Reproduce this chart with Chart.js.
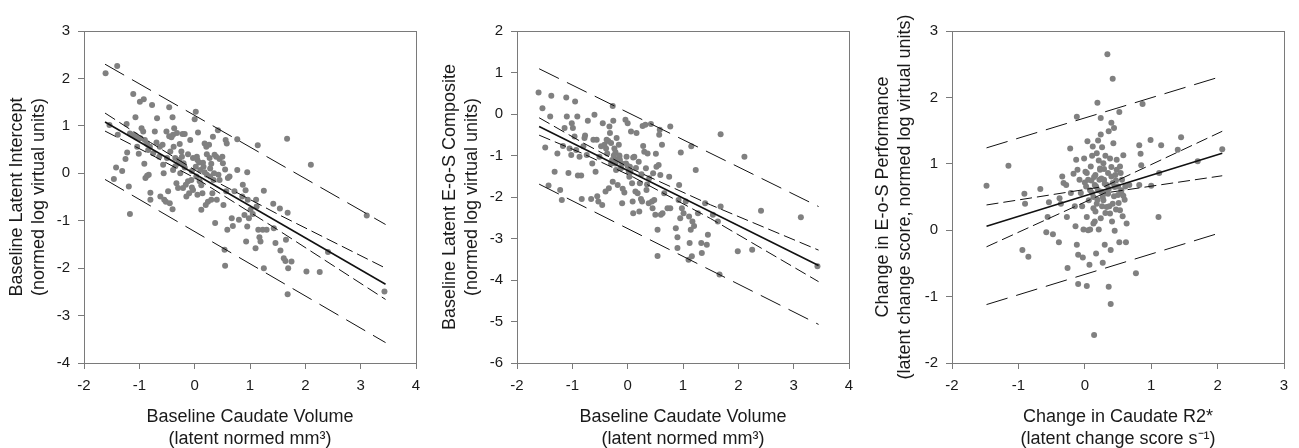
<!DOCTYPE html>
<html>
<head>
  <meta charset="UTF-8">
  <script src="https://cdn.jsdelivr.net/npm/chart.js@4.4.1/dist/chart.umd.min.js"></script>
  <style>
    html, body { margin: 0; padding: 0; background: #fff; overflow: hidden; }
    canvas { position: absolute; top: 0; }
  </style>
</head>
<body>
<canvas id="c1" width="433" height="450" style="left:0px"></canvas>
<canvas id="c2" width="433" height="450" style="left:433px"></canvas>
<canvas id="c3" width="433" height="450" style="left:866px"></canvas>
<script>
// ---- panel 1: baseline intercept vs caudate volume ----
const p1Points = [
  [-1.61,2.11],[-1.40,2.26],[-1.54,1.02],[-1.39,0.81],[-1.46,-0.12],[-1.42,0.12],[-1.31,0.05],
  [-1.23,1.04],[-1.25,0.30],[-1.22,0.44],[-1.17,-0.86],[-1.19,-0.28],[-1.17,0.84],[-1.13,0.81],
  [-1.11,1.67],[-1.07,1.18],[-1.05,0.76],[-1.04,0.56],[-1.01,0.41],[-0.99,1.51],[-0.96,0.95],
  [-0.93,0.88],[-0.92,1.56],[-0.90,0.70],[-0.91,0.20],[-0.89,-0.10],[-0.86,-0.05],[-0.84,0.49],
  [-0.83,-0.03],[-0.81,0.56],[-0.80,-0.41],[-0.80,-0.56],[-0.77,1.44],[-0.75,0.42],[-0.72,0.88],
  [-0.69,0.65],[-0.68,1.16],[-0.64,0.35],[-0.63,0.56],[-0.62,-0.49],[-0.57,0.18],[-0.56,0.00],
  [-0.55,-0.56],[-0.52,-0.60],[-0.51,0.88],[-0.50,0.32],[-0.48,-0.38],[-0.46,1.39],[-0.45,-0.63],
  [-0.44,0.46],[-0.42,0.76],[-0.40,-0.76],[-0.40,1.18],[-0.39,0.81],[-0.39,0.07],[-0.38,0.56],
  [-0.37,0.95],[-0.35,0.32],[-0.33,-0.21],[-0.32,0.85],[-0.30,0.21],[-0.30,-0.31],[-0.27,0.62],
  [-0.26,0.00],[-0.24,0.46],[-0.23,0.35],[-0.22,0.83],[-0.21,-0.31],[-0.20,0.21],[-0.18,0.83],
  [-0.16,-0.24],[-0.15,-0.49],[-0.12,-0.17],[-0.10,-0.42],[-0.08,0.70],[-0.06,-0.14],[-0.03,0.32],
  [-0.03,-0.35],[0.00,1.14],[0.02,1.30],[0.02,0.14],[0.03,-0.07],[0.04,0.35],[0.06,0.86],
  [0.08,0.23],[0.09,-0.17],[0.10,0.07],[0.12,-0.77],[0.14,-0.42],[0.16,0.14],[0.18,0.63],
  [0.20,-0.67],[0.21,0.56],[0.22,-0.03],[0.24,-0.60],[0.26,0.60],[0.27,0.32],[0.28,-0.07],
  [0.30,-0.56],[0.32,-0.42],[0.33,0.77],[0.34,-0.14],[0.36,0.39],[0.37,-1.05],[0.39,0.35],
  [0.40,-0.56],[0.42,0.91],[0.43,-0.03],[0.45,-0.14],[0.50,0.35],[0.51,0.21],[0.52,-0.67],
  [0.54,-1.61],[0.55,-1.95],[0.56,0.70],[0.57,-0.38],[0.58,0.63],[0.59,-1.19],[0.63,-0.07],
  [0.67,-0.95],[0.69,-1.11],[0.72,-0.38],[0.77,0.72],[0.77,0.07],[0.80,-0.98],[0.86,-0.49],
  [0.87,-0.24],[0.90,-0.88],[0.92,-0.36],[0.93,-1.44],[0.95,0.02],[0.95,-1.12],[0.96,-0.56],
  [0.98,-0.95],[1.01,-0.77],[1.05,-0.86],[1.10,-1.58],[1.11,-0.56],[1.12,-0.70],[1.14,0.59],
  [1.15,-1.19],[1.17,-1.35],[1.19,-1.44],[1.23,-1.19],[1.25,-0.37],[1.25,-2.00],[1.30,-1.19],
  [1.42,-0.64],[1.43,-1.16],[1.46,-1.47],[1.54,-0.74],[1.55,-1.63],[1.61,-1.79],[1.64,-1.85],
  [1.65,-1.40],[1.67,0.73],[1.68,-0.83],[1.68,-2.55],[1.69,-2.00],[1.75,-1.86],[2.02,-2.07],
  [2.10,0.18],[2.26,-2.08],[2.41,-1.66],[3.11,-0.89],[3.43,-2.49],
  [-0.28,0.28],[-0.18,0.12],[-0.05,0.05],[0.05,0.28],[0.15,0.22],[0.22,0.40],[-0.12,0.40],
  [0.28,0.10],[0.35,0.00],[-0.35,0.15],[0.45,0.30],[0.55,0.08],[0.60,-0.10],[0.12,-0.25],[-0.05,-0.30],
  [-1.08,0.80],[-0.98,0.74],[-0.86,0.62],[-0.58,0.60],[-0.46,0.78],[0.18,0.02],[0.30,0.20],[0.05,-0.45]
];
const p1LineX = [-1.62, 3.45];
const p1Fit   = [1.08, -2.34];
const p1PiHi  = [2.30, -1.08];
const p1PiLo  = [-0.13, -3.57];
const p1CiX   = [-1.62, -0.8, 0.1, 1.5, 3.45];
const p1CiHi  = [1.27, 0.65, 0.00, -0.86, -2.00];
const p1CiLo  = [0.89, 0.40, -0.16, -1.19, -2.66];

// ---- panel 2: baseline E-o-S composite vs caudate volume ----
const p2Points = [
  [-1.61,0.52],[-1.54,0.14],[-1.49,-0.81],[-1.43,-1.72],[-1.40,-0.06],[-1.38,0.44],[-1.32,-1.39],
  [-1.27,-0.95],[-1.22,-1.83],[-1.19,-2.07],[-1.17,-0.77],[-1.14,-0.34],[-1.11,0.40],[-1.10,-0.06],
  [-1.07,-1.42],[-1.05,-0.83],[-1.02,-0.99],[-1.01,-0.22],[-0.99,-0.34],[-0.96,-0.54],[-0.95,0.30],
  [-0.93,-0.87],[-0.91,-0.06],[-0.90,-1.48],[-0.87,-1.03],[-0.84,-1.48],[-0.83,-2.05],[-0.80,-0.78],
  [-0.78,-0.58],[-0.77,-0.52],[-0.74,-0.99],[-0.72,-0.16],[-0.66,-2.05],[-0.64,-1.19],[-0.62,-0.62],
  [-0.60,-0.02],[-0.58,-1.39],[-0.56,-0.62],[-0.55,-1.98],[-0.53,-2.11],[-0.51,-1.03],[-0.48,-0.78],
  [-0.46,-2.19],[-0.45,-0.22],[-0.42,-0.74],[-0.40,-1.87],[-0.39,-0.83],[-0.38,-0.62],[-0.37,-0.95],
  [-0.34,-1.79],[-0.33,-0.30],[-0.32,-0.46],[-0.30,-0.70],[-0.28,-1.11],[-0.27,0.19],[-0.27,-1.63],
  [-0.26,-0.16],[-0.24,-0.83],[-0.22,-1.19],[-0.21,-1.35],[-0.20,-0.58],[-0.18,-1.71],[-0.16,-0.74],
  [-0.15,-1.03],[-0.14,-1.11],[-0.12,-1.31],[-0.10,-2.15],[-0.09,-1.80],[-0.06,-1.89],[-0.04,-0.14],
  [-0.03,-1.19],[-0.02,-1.03],[0.00,-0.22],[0.02,-1.39],[0.03,-1.51],[0.04,-1.27],[0.06,-0.42],
  [0.08,-1.67],[0.09,-2.11],[0.10,-2.39],[0.12,-1.03],[0.14,-1.87],[0.16,-0.46],[0.18,-1.91],
  [0.21,-2.35],[0.22,-1.67],[0.24,-2.05],[0.26,-2.11],[0.27,-0.29],[0.28,-0.77],[0.30,-0.91],
  [0.32,-0.26],[0.33,-1.31],[0.34,-1.83],[0.36,-0.95],[0.38,-2.15],[0.39,-1.55],[0.42,-0.24],
  [0.44,-2.11],[0.45,-2.27],[0.46,-1.43],[0.48,-2.07],[0.50,-2.43],[0.51,-0.96],[0.52,-1.27],
  [0.54,-2.79],[0.54,-3.42],[0.56,-1.23],[0.57,-0.50],[0.58,-0.38],[0.59,-1.47],[0.60,-2.43],
  [0.62,-0.74],[0.63,-2.39],[0.66,-1.91],[0.72,-2.27],[0.75,-1.51],[0.77,-0.30],[0.77,-2.27],
  [0.87,-2.75],[0.90,-2.97],[0.90,-3.23],[0.92,-2.07],[0.93,-1.71],[0.95,-2.51],[0.96,-0.93],
  [0.98,-2.27],[1.01,-2.39],[1.05,-2.11],[1.10,-3.51],[1.11,-2.47],[1.12,-3.11],[1.14,-2.79],
  [1.15,-0.78],[1.16,-3.43],[1.17,-2.59],[1.20,-2.70],[1.23,-1.35],[1.27,-2.39],[1.33,-3.11],
  [1.34,-3.35],[1.40,-2.15],[1.43,-3.15],[1.45,-2.91],[1.54,-2.43],[1.63,-2.59],[1.66,-3.87],
  [1.68,-2.23],[1.68,-0.49],[1.99,-3.31],[2.11,-1.03],[2.25,-3.27],[2.41,-2.33],[3.13,-2.49],
  [3.43,-3.67],
  [-0.25,-1.00],[-0.20,-1.10],[-0.10,-1.20],[0.00,-1.25],[0.05,-1.40],[0.15,-1.30],[-0.15,-1.00],
  [0.20,-1.15],[-0.30,-1.20],[0.10,-1.05],[-0.35,-0.65],[-0.22,-0.92],[0.35,-1.70],[0.25,-1.45]
];
const p2LineX = [-1.60, 3.45];
const p2Fit   = [-0.30, -3.65];
const p2PiHi  = [1.09, -2.23];
const p2PiLo  = [-1.69, -5.07];
const p2CiX   = [-1.60, -0.8, 0.1, 1.5, 3.45];
const p2CiHi  = [-0.09, -0.70, -1.34, -2.19, -3.28];
const p2CiLo  = [-0.51, -0.96, -1.52, -2.52, -4.04];

// ---- panel 3: change in E-o-S performance vs change in caudate R2* ----
const p3Points = [
  [-1.48,0.67],[-1.15,0.97],[-0.94,-0.30],[-0.91,0.55],[-0.90,0.40],[-0.85,-0.40],[-0.67,0.62],
  [-0.58,-0.03],[-0.56,0.20],[-0.54,0.42],[-0.48,-0.06],[-0.39,-0.18],[-0.38,0.48],[-0.36,0.40],
  [-0.34,0.81],[-0.32,0.71],[-0.28,0.68],[-0.27,0.20],[-0.26,-0.57],[-0.22,1.23],[-0.21,0.56],
  [-0.17,0.85],[-0.15,0.36],[-0.14,0.06],[-0.13,1.06],[-0.12,-0.22],[-0.12,1.71],[-0.11,0.91],
  [-0.10,-0.37],[-0.10,-0.81],[-0.08,0.76],[-0.06,0.56],[-0.04,0.36],[-0.03,-0.41],[-0.02,0.01],
  [-0.01,1.08],[0.01,0.88],[0.02,0.66],[0.03,0.20],[0.03,-0.84],[0.04,1.34],[0.05,0.76],
  [0.07,-0.52],[0.08,0.01],[0.09,0.96],[0.11,0.56],[0.12,1.26],[0.13,0.33],[0.14,-1.58],
  [0.15,0.13],[0.16,0.83],[0.17,0.66],[0.17,-0.35],[0.18,1.16],[0.19,1.92],[0.19,0.46],
  [0.21,0.01],[0.22,0.76],[0.23,0.93],[0.24,1.44],[0.24,1.69],[0.25,0.58],[0.26,0.36],
  [0.27,-0.49],[0.28,1.01],[0.29,0.76],[0.30,-0.22],[0.31,0.26],[0.32,0.56],[0.33,0.68],
  [0.34,2.65],[0.35,0.86],[0.36,1.49],[0.36,-0.85],[0.37,0.36],[0.38,1.08],[0.39,-0.30],
  [0.39,-1.11],[0.40,1.62],[0.41,0.13],[0.42,2.28],[0.42,0.71],[0.43,1.31],[0.44,1.54],
  [0.44,0.51],[0.45,-0.01],[0.46,0.83],[0.47,0.31],[0.48,1.06],[0.50,0.66],[0.51,0.41],
  [0.52,1.78],[0.52,-0.18],[0.53,0.96],[0.55,0.56],[0.56,0.76],[0.57,0.21],[0.58,1.13],
  [0.60,0.46],[0.61,0.66],[0.62,-0.18],[0.63,0.10],[0.67,0.68],[0.77,-0.65],[0.82,0.68],
  [0.82,1.28],[0.84,1.15],[0.85,0.98],[0.87,1.90],[0.99,1.36],[1.00,0.67],[1.11,0.20],
  [1.12,0.86],[1.15,1.28],[1.40,1.21],[1.45,1.40],[1.70,1.04],[2.07,1.22],
  [0.10,0.75],[0.15,0.68],[0.20,0.60],[0.25,0.78],[0.30,0.70],[0.35,0.55],[0.40,0.81],
  [0.45,0.65],[0.50,0.53],[0.55,0.60],[0.13,0.50],[0.18,0.40],[0.28,0.45],[0.33,0.35],
  [0.08,0.60],[0.03,0.86],[0.48,0.91],[0.23,0.91],[0.38,0.25],[0.05,0.00],[0.13,0.10],
  [0.14,0.80],[0.21,1.05],[0.26,1.25],[0.31,1.12],[0.11,1.12],[0.20,1.35],[0.27,0.50],
  [0.36,0.62],[0.42,0.40],[0.47,0.75],[0.53,0.30],[0.58,0.52],[0.16,0.28],[0.24,0.18],
  [0.06,0.45],[0.00,0.72],[0.40,0.95],[0.54,0.86],[0.29,0.92]
];
const p3LineX = [-1.48, 2.07];
const p3Fit   = [0.06, 1.16];
const p3PiHi  = [1.24, 2.32];
const p3PiLo  = [-1.12, -0.03];
const p3CiX   = [-1.48, 0.3, 2.07];
const p3CiHi  = [0.38, 0.66, 1.49];
const p3CiLo  = [-0.25, 0.56, 0.82];

const FONT = 'Liberation Sans, Arial, sans-serif';
const TEXT = '#1a1a1a';
const AXIS = '#7a7a7a';

function xy(xs, ys) {
  return xs.map((x, i) => ({ x: x, y: ys[i] }));
}

function lineSet(data, dash, width) {
  return {
    type: 'line', data: data, showLine: true, fill: false,
    borderColor: '#111', borderWidth: width, borderDash: dash,
    pointRadius: 0, tension: 0
  };
}

// grey box round the plot area
const boxPlugin = {
  id: 'box',
  afterDraw(chart) {
    const a = chart.chartArea, ctx = chart.ctx;
    ctx.save();
    ctx.strokeStyle = AXIS;
    ctx.lineWidth = 1;
    ctx.strokeRect(a.left + 0.5, a.top + 0.5, a.right - a.left, a.bottom - a.top);
    ctx.restore();
  }
};

function makePanel(id, p, opt) {
  const datasets = [
    lineSet(xy(p.lineX, p.fit), [], 1.6),
    lineSet(xy(p.ciX, p.ciHi), [12, 5], 1),
    lineSet(xy(p.ciX, p.ciLo), [12, 5], 1),
    lineSet(xy(p.lineX, p.piHi), [22, 9], 1),
    lineSet(xy(p.lineX, p.piLo), [22, 9], 1),
    {
      type: 'scatter',
      data: p.points.map(d => ({ x: d[0], y: d[1] })),
      backgroundColor: '#808080', borderWidth: 0, pointRadius: 3
    }
  ];
  new Chart(document.getElementById(id), {
    type: 'scatter',
    data: { datasets: datasets },
    options: {
      responsive: false,
      animation: false,
      layout: { padding: { top: 31, right: opt.right, left: 0, bottom: 0 } },
      plugins: { legend: { display: false }, tooltip: { enabled: false } },
      scales: {
        x: {
          type: 'linear', min: opt.xMin, max: opt.xMax,
          ticks: { stepSize: 1, color: TEXT, font: { family: FONT, size: 15 }, padding: 8 },
          grid: { drawOnChartArea: false, drawTicks: true, tickLength: 6, color: AXIS },
          border: { color: AXIS },
          title: {
            display: true, text: opt.xTitle, color: TEXT,
            font: { family: FONT, size: 18, lineHeight: 1.222 }, padding: { top: 0, bottom: 0 }
          },
          afterFit(s) { s.height = 87; }
        },
        y: {
          type: 'linear', min: opt.yMin, max: opt.yMax,
          ticks: { stepSize: 1, color: TEXT, font: { family: FONT, size: 15 }, padding: 8 },
          grid: { drawOnChartArea: false, drawTicks: true, tickLength: 6, color: AXIS },
          border: { color: AXIS },
          title: {
            display: true, text: opt.yTitle, color: TEXT,
            font: { family: FONT, size: 18, lineHeight: 1.222 }, padding: { top: 6, bottom: 0 }
          },
          afterFit(s) { s.width = opt.left; }
        }
      }
    },
    plugins: [boxPlugin]
  });
}

makePanel('c1', {
  points: p1Points, lineX: p1LineX, fit: p1Fit, piHi: p1PiHi, piLo: p1PiLo,
  ciX: p1CiX, ciHi: p1CiHi, ciLo: p1CiLo
}, {
  xMin: -2, xMax: 4, yMin: -4, yMax: 3, left: 84, right: 17,
  xTitle: ['Baseline Caudate Volume', '(latent normed mm³)'],
  yTitle: ['Baseline Latent Intercept', '(normed log virtual units)']
});

makePanel('c2', {
  points: p2Points, lineX: p2LineX, fit: p2Fit, piHi: p2PiHi, piLo: p2PiLo,
  ciX: p2CiX, ciHi: p2CiHi, ciLo: p2CiLo
}, {
  xMin: -2, xMax: 4, yMin: -6, yMax: 2, left: 84, right: 17,
  xTitle: ['Baseline Caudate Volume', '(latent normed mm³)'],
  yTitle: ['Baseline Latent E-o-S Composite', '(normed log virtual units)']
});

makePanel('c3', {
  points: p3Points, lineX: p3LineX, fit: p3Fit, piHi: p3PiHi, piLo: p3PiLo,
  ciX: p3CiX, ciHi: p3CiHi, ciLo: p3CiLo
}, {
  xMin: -2, xMax: 3, yMin: -2, yMax: 3, left: 86, right: 15,
  xTitle: ['Change in Caudate R2*', '(latent change score s⁻¹)'],
  yTitle: ['Change in E-o-S Performance', '(latent change score, normed log virtual units)']
});
</script>
</body>
</html>
